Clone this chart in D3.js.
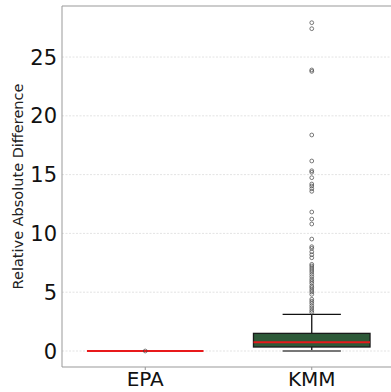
<!DOCTYPE html>
<html>
<head>
<meta charset="utf-8">
<script src="https://cdn.jsdelivr.net/npm/d3@7"></script>
<style>
  body { margin: 0; background: #fff; }
  text { font-family: "DejaVu Sans", sans-serif; }
</style>
</head>
<body>
<script>
(function() {

    const width = 391;
    const height = 392;

    // box statistics, one entry per category
    const categories = ["EPA", "KMM"];
    const whiskerLow = [0, 0.0];
    const q1 = [0, 0.34];
    const median = [0, 0.74];
    const q3 = [0, 1.5];
    const whiskerHigh = [0, 3.12];
    const epaOutliers = [0.0];
    const kmmOutliers = [27.92, 27.41, 23.9, 23.78, 18.37, 16.16, 15.33, 15.2, 14.74,
        14.2, 14.03, 13.8, 13.58, 11.82, 11.22, 10.8, 9.52, 8.87, 8.73, 8.44, 8.19,
        7.93, 7.37, 7.23, 7.06, 6.89, 6.72, 6.52, 6.32, 6.1, 5.93, 5.76, 5.53, 5.38,
        5.19, 5.02, 4.82, 4.4, 4.23, 4.06, 3.85, 3.66, 3.46, 3.29];
    const yTicks = [0, 5, 10, 15, 20, 25];

    const margin = {top: 6, right: -4, bottom: 25, left: 62};

    let svg = d3.select("body")
        .append("svg")
        .attr("width", width)
        .attr("height", height);

    let x = d3.scaleLinear()
        .domain([-0.5, 1.5])
        .range([margin.left, width - margin.right]);

    let y = d3.scaleLinear()
        .domain([-1.36, 29.34])
        .range([height - margin.bottom, margin.top]);

    let bw = (x(1) - x(0)) * 0.7;

    // grid lines
    svg.append("g")
        .selectAll("line")
        .data(yTicks)
        .enter()
        .append("line")
        .attr("x1", x(-0.5))
        .attr("x2", x(1.5))
        .attr("y1", d => y(d))
        .attr("y2", d => y(d))
        .style("stroke", "#dcdcdc")
        .style("stroke-width", 0.8)
        .style("stroke-dasharray", "2,1.5");

    // y tick labels
    svg.append("g")
        .selectAll("text")
        .data(yTicks)
        .enter()
        .append("text")
        .attr("x", 57)
        .attr("y", d => y(d))
        .attr("dy", "0.36em")
        .attr("text-anchor", "end")
        .style("font-size", "21px")
        .style("fill", "#111")
        .text(d => d);

    // x tick labels + tiny ticks
    svg.append("g")
        .selectAll("line")
        .data(categories)
        .enter()
        .append("line")
        .attr("x1", (d, i) => x(i))
        .attr("x2", (d, i) => x(i))
        .attr("y1", y.range()[0])
        .attr("y2", y.range()[0] + 3)
        .style("stroke", "#777")
        .style("stroke-width", 0.8);

    svg.append("g")
        .selectAll("text")
        .data(categories)
        .enter()
        .append("text")
        .attr("x", (d, i) => x(i))
        .attr("y", 386)
        .attr("text-anchor", "middle")
        .style("font-size", "20px")
        .style("fill", "#111")
        .text(d => d);

    // y axis label
    svg.append("text")
        .attr("transform", "translate(23," + ((y.range()[0] + y.range()[1]) / 2) + ") rotate(-90)")
        .attr("text-anchor", "middle")
        .style("font-size", "14.5px")
        .style("fill", "#222")
        .text("Relative Absolute Difference");

    // boxes
    let boxes = svg.append("g")
        .selectAll("g")
        .data(categories)
        .enter()
        .append("g");

    boxes.append("line")
        .attr("x1", (d, i) => x(i))
        .attr("x2", (d, i) => x(i))
        .attr("y1", (d, i) => y(q3[i]))
        .attr("y2", (d, i) => y(whiskerHigh[i]))
        .style("stroke", "#111")
        .style("stroke-width", 1.3);

    boxes.append("line")
        .attr("x1", (d, i) => x(i))
        .attr("x2", (d, i) => x(i))
        .attr("y1", (d, i) => y(q1[i]))
        .attr("y2", (d, i) => y(whiskerLow[i]))
        .style("stroke", "#111")
        .style("stroke-width", 1.3);

    boxes.append("line")
        .attr("x1", (d, i) => x(i) - bw / 4)
        .attr("x2", (d, i) => x(i) + bw / 4)
        .attr("y1", (d, i) => y(whiskerHigh[i]))
        .attr("y2", (d, i) => y(whiskerHigh[i]))
        .style("stroke", "#111")
        .style("stroke-width", 1.3);

    boxes.append("line")
        .attr("x1", (d, i) => x(i) - bw / 4)
        .attr("x2", (d, i) => x(i) + bw / 4)
        .attr("y1", (d, i) => y(whiskerLow[i]))
        .attr("y2", (d, i) => y(whiskerLow[i]))
        .style("stroke", "#777")
        .style("stroke-width", 2);

    boxes.append("rect")
        .attr("x", (d, i) => x(i) - bw / 2)
        .attr("y", (d, i) => y(q3[i]))
        .attr("width", bw)
        .attr("height", (d, i) => y(q1[i]) - y(q3[i]))
        .style("fill", "#2e5a39")
        .style("stroke", "#1a1a1a")
        .style("stroke-width", 1.3);

    boxes.append("line")
        .attr("x1", (d, i) => x(i) - bw / 2)
        .attr("x2", (d, i) => x(i) + bw / 2)
        .attr("y1", (d, i) => y(median[i]))
        .attr("y2", (d, i) => y(median[i]))
        .style("stroke", "#e8191b")
        .style("stroke-width", 2);

    // outliers
    let outliers = [epaOutliers, kmmOutliers];
    outliers.forEach(function(vals, i) {
        svg.append("g")
            .selectAll("circle")
            .data(vals)
            .enter()
            .append("circle")
            .attr("cx", x(i))
            .attr("cy", d => y(d))
            .attr("r", 1.9)
            .style("fill", "none")
            .style("stroke", "#444")
            .style("stroke-width", 0.7);
    });

    // spines
    let sp = svg.append("g").style("stroke", "#999").style("stroke-width", 1);
    sp.append("line").attr("x1", x(-0.5)).attr("x2", x(-0.5)).attr("y1", y.range()[1]).attr("y2", y.range()[0]);
    sp.append("line").attr("x1", x(-0.5)).attr("x2", x(1.5)).attr("y1", y.range()[0]).attr("y2", y.range()[0]);
    sp.append("line").attr("x1", x(-0.5)).attr("x2", x(1.5)).attr("y1", y.range()[1]).attr("y2", y.range()[1]);

})();
</script>
</body>
</html>
